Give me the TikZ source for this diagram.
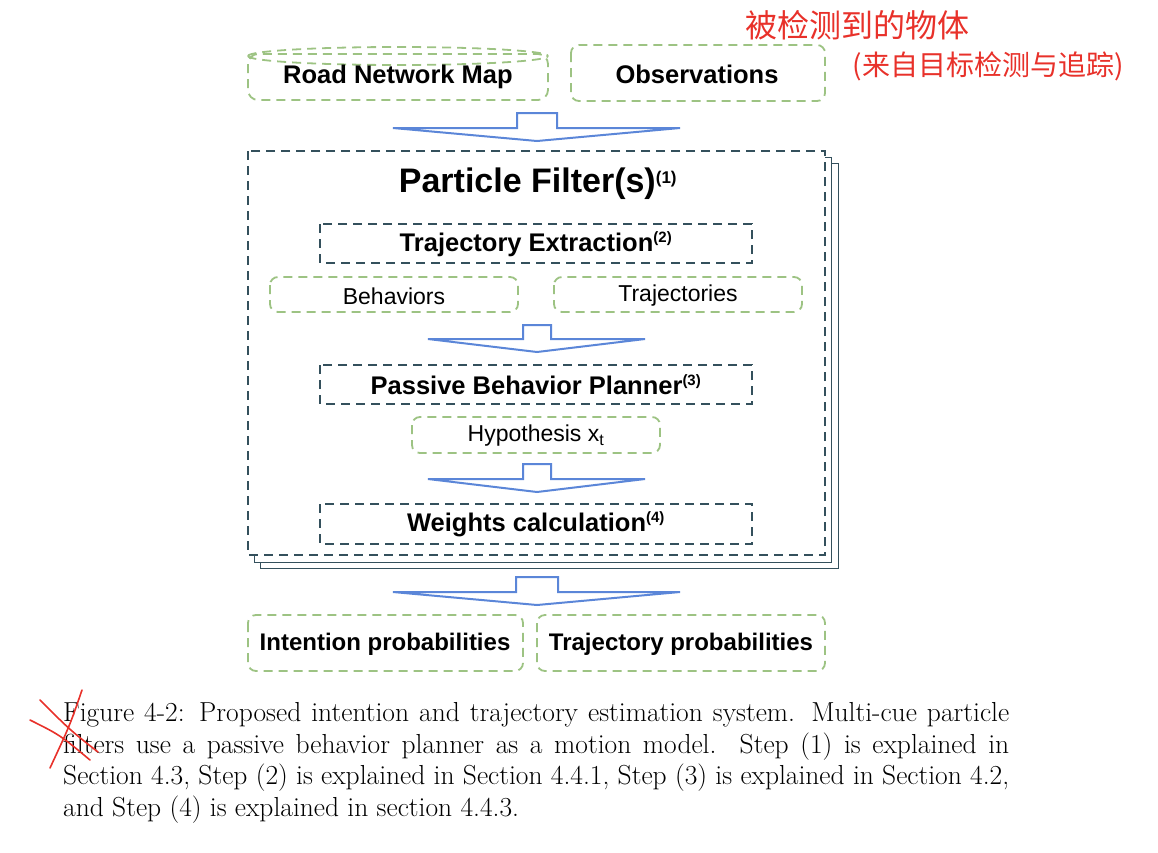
\documentclass[tikz,border=0pt]{standalone}
\usepackage{fontspec}
\setmainfont{Liberation Sans}
\newfontfamily\cjk{Noto Sans CJK SC}
\newfontfamily\lmr{Latin Modern Roman}
\begin{document}
\begin{tikzpicture}[x=1pt,y=-1pt,
  gbox/.style={draw=gcol,dash pattern=on 9pt off 6pt,line width=1.8pt,rounded corners=8pt},
  dbox/.style={draw=dcol,dash pattern=on 9pt off 6pt,line width=1.8pt},
  bigarrow/.style={draw=acol,line width=2pt,line join=miter},
  lab/.style={font=\bfseries\fontsize{25.5}{28}\selectfont},
  sub/.style={font=\fontsize{23}{26}\selectfont},
  captext/.style={anchor=north west,font=\lmr\fontsize{27.5}{31.7}\selectfont,inner sep=0pt,text width=946pt,align=justify}]
\definecolor{gcol}{HTML}{9DC383}
\definecolor{dcol}{HTML}{34505C}
\definecolor{acol}{HTML}{5B86D8}
\definecolor{rcol}{HTML}{E8312A}
\useasboundingbox (0,0) rectangle (1158,852);
% top boxes
\draw[gbox,rounded corners=10pt] (248,54) rectangle (548,100);
\draw[gcol,dash pattern=on 9pt off 6pt,line width=1.8pt] (248,56) arc[start angle=180,end angle=0,x radius=150,y radius=9];
\draw[gcol,dash pattern=on 9pt off 6pt,line width=1.8pt] (248,56) arc[start angle=180,end angle=360,x radius=150,y radius=9];
\node[lab] (road) at (398,77) {Road Network Map};
\draw[gbox] (571,45) rectangle (825,101);
\node[lab] (obs) at (697,74) {Observations};
% arrow 1
\draw[bigarrow] (393,128)--(517,128)--(517,113)--(557,113)--(557,128)--(680,128)--(537,141)--cycle;
% particle filter stack
\draw[dcol,line width=0.8pt] (260,163) rectangle (838,568);
\draw[dcol,line width=0.8pt,fill=white] (254,157) rectangle (831,562);
\draw[dbox,fill=white] (248,151) rectangle (825,555);
\node[font=\bfseries\fontsize{34}{38}\selectfont] (pf) at (538,184) {Particle Filter(s)\textsuperscript{\fontsize{17}{17}\selectfont(1)}};
% trajectory extraction
\draw[dbox] (320,224) rectangle (752,263);
\node[lab] (te) at (536,244) {Trajectory Extraction\textsuperscript{\fontsize{15}{15}\selectfont(2)}};
\draw[gbox] (270,277) rectangle (518,312);
\node[sub] (beh) at (394,296) {Behaviors};
\draw[gbox] (554,277) rectangle (802,312);
\node[sub] (traj) at (678,296) {Trajectories};
\draw[bigarrow] (428,339)--(523,339)--(523,325)--(551,325)--(551,339)--(645,339)--(537,352)--cycle;
\draw[dbox] (320,365) rectangle (752,404);
\node[lab] (pbp) at (536,385) {Passive Behavior Planner\textsuperscript{\fontsize{15}{15}\selectfont(3)}};
\draw[gbox] (412,417) rectangle (660,453);
\node[sub] (hyp) at (536,436) {Hypothesis x\textsubscript{t}};
\draw[bigarrow] (428,479)--(523,479)--(523,464)--(551,464)--(551,479)--(645,479)--(537,492)--cycle;
\draw[dbox] (320,504) rectangle (752,544);
\node[lab] (wc) at (536,524) {Weights calculation\textsuperscript{\fontsize{15}{15}\selectfont(4)}};
% arrow 4
\draw[bigarrow] (393,592)--(516,592)--(516,577)--(558,577)--(558,592)--(680,592)--(537,605)--cycle;
\draw[gbox] (248,615) rectangle (523,671);
\node[lab,font=\bfseries\fontsize{24}{28}\selectfont] (ip) at (385,644) {Intention probabilities};
\draw[gbox] (537,615) rectangle (825,671);
\node[lab,font=\bfseries\fontsize{24}{28}\selectfont] (tp) at (681,644) {Trajectory probabilities};
% caption
\node[captext] (cap) at (63,702) {Figure 4-2: Proposed intention and trajectory estimation system. Multi-cue particle filters use a passive behavior planner as a motion model.\ \ Step (1) is explained in Section 4.3, Step (2) is explained in Section 4.4.1, Step (3) is explained in Section 4.2, and Step (4) is explained in section 4.4.3.};
% handwriting
\node[text=rcol,font=\cjk\fontsize{32}{32}\selectfont] (h1) at (857,25) {被检测到的物体};
\node[text=rcol,font=\cjk\fontsize{28}{28}\selectfont] (h2) at (988,66) {(来自目标检测与追踪)};
\draw[rcol,line width=1.6pt,line cap=round] (40,700) .. controls (70,730) .. (98,752);
\draw[rcol,line width=1.6pt,line cap=round] (82,690) .. controls (70,725) .. (50,768);
\draw[rcol,line width=1.6pt,line cap=round] (30,720) .. controls (60,735) .. (90,760);
\end{tikzpicture}
\end{document}
